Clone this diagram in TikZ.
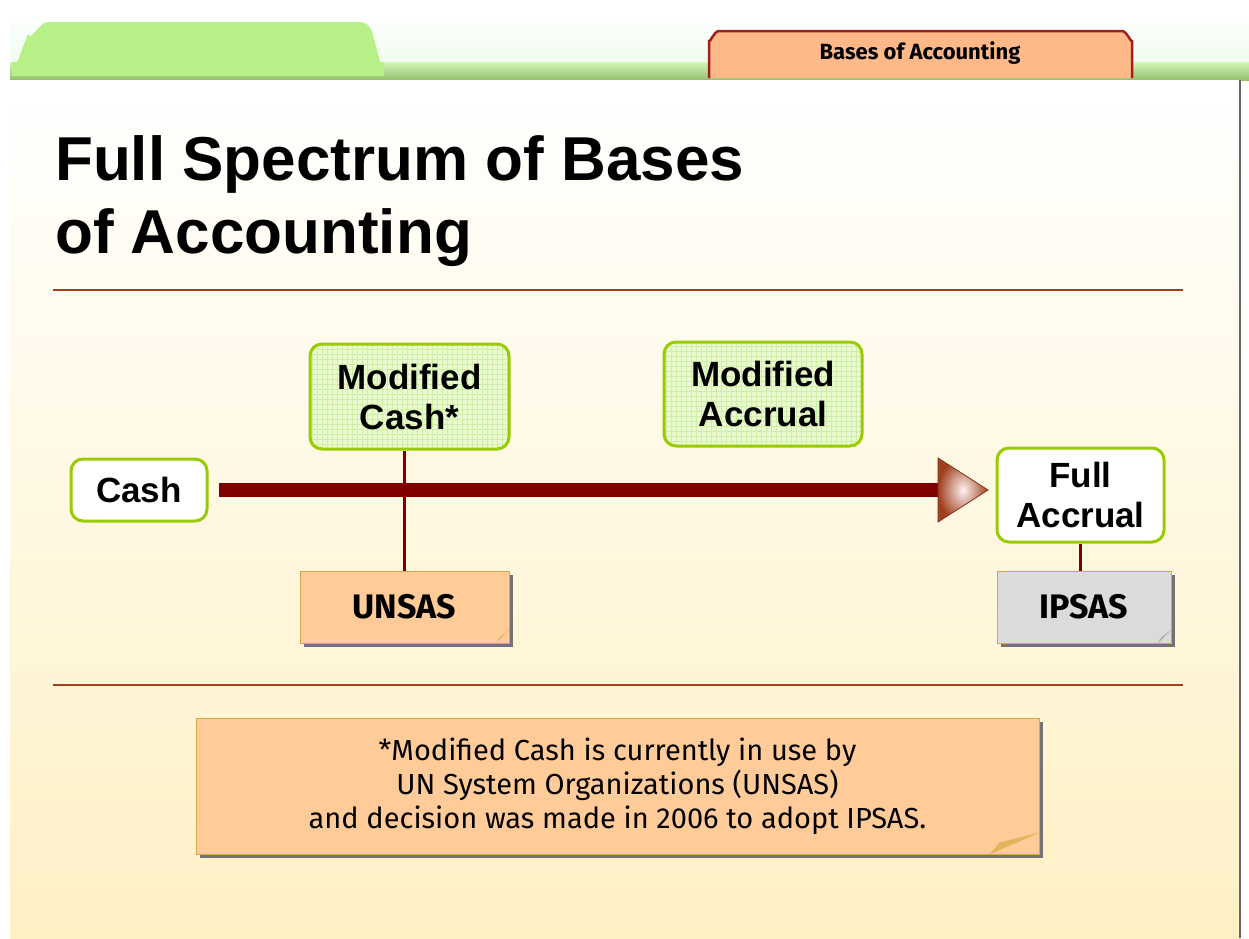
\documentclass[tikz,border=0pt]{standalone}
\usepackage{fontspec}
\setmainfont{Liberation Sans}
\newfontfamily\comic{Fira Sans}
\usetikzlibrary{shadows,calc}
\definecolor{gbord}{HTML}{99CC00}
\definecolor{gfill}{HTML}{EAFCCF}
\definecolor{gline}{HTML}{CDEFA8}
\definecolor{darkred}{HTML}{800000}
\definecolor{rule}{HTML}{A0401E}
\definecolor{orfill}{HTML}{FFCC99}
\definecolor{orbord}{HTML}{D8A848}
\definecolor{tabfill}{HTML}{FFB888}
\definecolor{tabbord}{HTML}{A02020}
\definecolor{panelbot}{HTML}{FFF0C4}
\definecolor{barg}{HTML}{B8F088}
\tikzset{
  boxfont/.style={font=\fontsize{35}{40}\selectfont\bfseries},
  greenbox/.style={draw=gbord, line width=3pt, rounded corners=12pt, fill=white, align=center, boxfont, inner sep=0pt},
  gridbox/.style={greenbox, fill=gfill, path picture={\draw[gline, line width=0.6pt, step=5pt] (path picture bounding box.south west) grid (path picture bounding box.north east);}},
  notebox/.style={draw=orbord, line width=1pt, fill=orfill, align=center, inner sep=0pt,
    drop shadow={shadow xshift=4pt, shadow yshift=-4pt, fill=black!55, opacity=1}},
  conn/.style={draw=darkred, line width=3pt},
  stdfont/.style={font=\comic\fontsize{34}{38}\selectfont\bfseries},
}
\begin{document}
\begin{tikzpicture}[x=1pt,y=-1pt]
\useasboundingbox (0,0) rectangle (1249,938);
\fill[white] (0,0) rectangle (1249,938);
% top area
\shade[top color=white, bottom color=black!18!green!8] (10,10) rectangle (1249,80);
% green tab
\fill[barg] (12,76) -- (28,34) to[out=-70,in=180] (48,22) -- (360,22) to[out=0,in=110] (372,32) -- (384,76) -- cycle;
\shade[top color=barg!60!white, bottom color=barg!80!black] (10,62) rectangle (1249,80);
\fill[barg] (12,62) rectangle (384,76);
% panel
\shade[top color=white, bottom color=panelbot] (10,80) rectangle (1240,938);
\draw[black!60, line width=1.5pt] (1240,80) -- (1240,938);
% orange tab
\draw[tabbord, line width=2.5pt, fill=tabfill] (709,78) -- (709,40) to[out=-90,in=180] (719,31) -- (1122,31) to[out=0,in=-90] (1132,40) -- (1132,78);
\node[font=\comic\fontsize{22}{24}\selectfont\bfseries] (tab) at (920,53) {Bases of Accounting};
% title
\node[anchor=base west, font=\fontsize{62}{72}\selectfont\bfseries, align=left, inner sep=0pt] (title) at (55,180) {Full Spectrum of Bases};
\node[anchor=base west, font=\fontsize{62}{72}\selectfont\bfseries, align=left, inner sep=0pt] (title2) at (55,253) {of Accounting};
% rules
\draw[rule, line width=2pt] (53,290) -- (1183,290);
\draw[rule, line width=2pt] (53,685) -- (1183,685);
% boxes
\node[greenbox, minimum width=136pt, minimum height=62pt] (cash) at (139,490) {Cash};
\node[gridbox, minimum width=199pt, minimum height=105pt] (mc) at (409.5,396.5) {Modified\\Cash*};
\node[gridbox, minimum width=198pt, minimum height=104pt] (ma) at (763,394) {Modified\\Accrual};
\node[greenbox, minimum width=167pt, minimum height=94pt] (fa) at (1080.5,495) {Full\\Accrual};
\node[notebox, stdfont, minimum width=209pt, minimum height=72pt] (unsas) at (404.5,607) {UNSAS};
\node[notebox, stdfont, fill=black!14, minimum width=174pt, minimum height=72pt] (ipsas) at (1084,607) {IPSAS};
\node[notebox, font=\comic\fontsize{29}{34}\selectfont, minimum width=843pt, minimum height=136pt] (note) at (617.5,786) {*Modified Cash is currently in use by\\UN System Organizations (UNSAS)\\and decision was made in 2006 to adopt IPSAS.};
% curled corners
\fill[orbord!70!orfill] ($(unsas.south east)+(0,-14)$) -- ($(unsas.south east)+(-14,0)$) -- ($(unsas.south east)+(-10,-6)$) -- cycle;
\fill[black!35] ($(ipsas.south east)+(0,-14)$) -- ($(ipsas.south east)+(-14,0)$) -- ($(ipsas.south east)+(-10,-6)$) -- cycle;
\fill[orbord!70!orfill] ($(note.south east)+(0,-22)$) -- ($(note.south east)+(-50,0)$) -- ($(note.south east)+(-40,-12)$) -- cycle;
% connectors
\draw[conn] (unsas.north |- mc.south) -- (unsas.north);
\draw[conn] ($(ma.south)+(5,0)$) -- ($(ma.south)+(5,0)$ |- cash.east);
\draw[conn] (fa.south) -- (fa.south |- ipsas.north);
% main arrow
\coordinate (tip) at (988,490);
\draw[darkred, line width=14pt] ($(cash.east)+(10,0)$) -- ($(tip)+(-48,0)$);
\shade[inner color=red!5!white, outer color=rule, draw=rule!80!black, line width=0.8pt] ($(tip)+(-50,-32)$) -- (tip) -- ($(tip)+(-50,32)$) -- cycle;
\end{tikzpicture}
\end{document}
